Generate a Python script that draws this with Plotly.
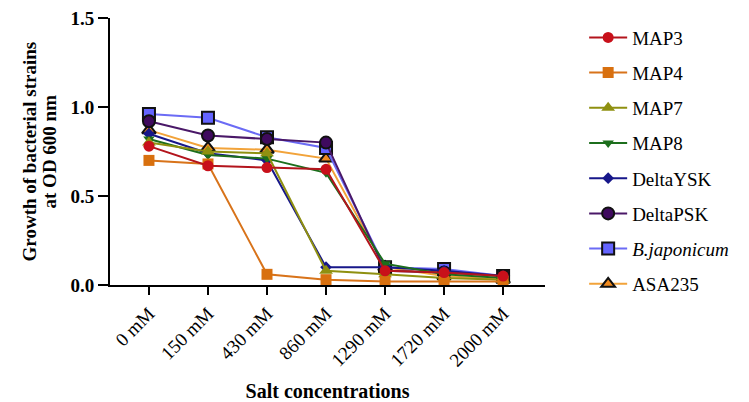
import plotly.graph_objects as go

concentrations = ["0 mM", "150 mM", "430 mM", "860 mM", "1290 mM", "1720 mM", "2000 mM"]

map3 = [0.78, 0.67, 0.66, 0.65, 0.08, 0.07, 0.05]
map4 = [0.70, 0.68, 0.06, 0.03, 0.02, 0.02, 0.02]
map7 = [0.80, 0.75, 0.74, 0.08, 0.06, 0.04, 0.03]
map8 = [0.82, 0.73, 0.71, 0.63, 0.12, 0.06, 0.04]
delta_ysk = [0.85, 0.74, 0.70, 0.10, 0.10, 0.08, 0.05]
delta_psk = [0.92, 0.84, 0.82, 0.80, 0.08, 0.07, 0.05]
b_japonicum = [0.96, 0.94, 0.83, 0.77, 0.10, 0.09, 0.05]
asa235 = [0.87, 0.77, 0.76, 0.71, 0.10, 0.05, 0.03]

series = [
    ("MAP3", map3, "#b3141c", "#c8101a", "circle", 11, 0, "#c8101a"),
    ("MAP4", map4, "#d8731a", "#d8700f", "square", 11, 0, "#d8700f"),
    ("MAP7", map7, "#8f9010", "#8f9010", "triangle-up", 12, 0, "#8f9010"),
    ("MAP8", map8, "#1c6e1c", "#1c6e1c", "triangle-down", 10, 0, "#1c6e1c"),
    ("DeltaYSK", delta_ysk, "#17178a", "#17178a", "diamond", 9, 0, "#17178a"),
    ("DeltaPSK", delta_psk, "#4a1868", "#3f0a5e", "circle", 12, 2, "#111111"),
    ("<i>B.japonicum</i>", b_japonicum, "#6b6bf5", "#6464ff", "square", 12, 2, "#111111"),
    ("ASA235", asa235, "#f2a33a", "#f08a1e", "triangle-up", 12, 2, "#111111"),
]

fig = go.Figure()
# draw the last series first so the first one sits on top
for i, (name, vals, lc, fc, sym, size, lw, outline) in enumerate(reversed(series)):
    fig.add_trace(go.Scatter(
        x=concentrations, y=vals, name=name, mode="lines+markers",
        legendgroup="g%d" % i, legendrank=len(series) - i,
        line=dict(color=lc, width=2),
        marker=dict(symbol=sym, size=size, color=fc,
                    line=dict(color=outline, width=lw)),
        cliponaxis=False,
    ))

serif = "Liberation Serif, Times New Roman, serif"

fig.update_layout(
    width=749, height=402,
    margin=dict(l=110, r=204, t=18, b=117),
    plot_bgcolor="white", paper_bgcolor="white",
    font=dict(family=serif, color="black"),
    showlegend=True,
    legend=dict(
        x=1.09, xanchor="left", y=0.998, yanchor="top",
        font=dict(family=serif, size=19, color="black"),
        itemwidth=38, tracegroupgap=7.5, traceorder="grouped",
        maxheight=380, bgcolor="rgba(0,0,0,0)",
    ),
    xaxis=dict(
        range=[-0.66, 6.71], showline=True, linecolor="black", linewidth=2,
        ticks="outside", ticklen=8, tickwidth=2, tickcolor="black",
        tickangle=-45, tickfont=dict(family=serif, size=19),
        showgrid=False, zeroline=False, automargin=False,
        title=dict(text="<b>Salt concentrations</b>", font=dict(family=serif, size=20), standoff=22),
    ),
    yaxis=dict(
        range=[0, 1.5], tickvals=[0, 0.5, 1.0, 1.5], tickformat=".1f",
        showline=True, linecolor="black", linewidth=2,
        ticks="outside", ticklen=10, tickwidth=2, tickcolor="black",
        tickfont=dict(family=serif, size=19, weight="bold"),
        showgrid=False, zeroline=False, automargin=False,
    ),
    annotations=[
        dict(text="<b>Growth of bacterial strains</b>", xref="paper", yref="paper",
             x=-0.184, y=0.5, xanchor="center", yanchor="middle", textangle=-90,
             showarrow=False, font=dict(family=serif, size=19)),
        dict(text="<b>at OD 600 nm</b>", xref="paper", yref="paper",
             x=-0.138, y=0.5, xanchor="center", yanchor="middle", textangle=-90,
             showarrow=False, font=dict(family=serif, size=19)),
    ],
)

fig.write_html("out.html")
